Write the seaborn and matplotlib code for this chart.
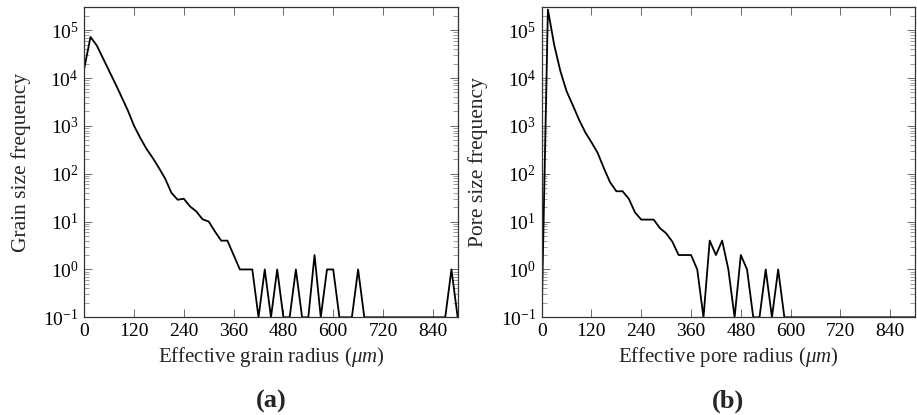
import numpy as np
import pandas as pd
import matplotlib
matplotlib.use("Agg")
import matplotlib.pyplot as plt
import seaborn as sns
from matplotlib.ticker import LogLocator, NullFormatter

# ---- data ----
radius = list(range(0, 901, 15))  # effective radius (um), 61 bins

grain_freq = [1.6e4, 7.2e4, 4.8e4, 2.6e4, 1.4e4, 7.6e3, 4.0e3, 2.1e3, 1.0e3, 560,
              330, 214, 132, 79, 40, 28.6, 30, 20.7, 16.3, 11.2,
              10, 6.2, 4, 4, 2, 1, 1, 1, 0.1, 1,
              0.1, 1, 0.1, 0.1, 1, 0.1, 0.1, 2, 0.1, 1,
              1, 0.1, 0.1, 0.1, 1, 0.1, 0.1, 0.1, 0.1, 0.1,
              0.1, 0.1, 0.1, 0.1, 0.1, 0.1, 0.1, 0.1, 0.1, 1,
              0.1]

pore_freq = [0.1, 2.7e5, 5.0e4, 1.4e4, 5.3e3, 2.7e3, 1.35e3, 735, 454, 272,
             130, 66, 43, 43, 30, 15.5, 11, 11, 11, 7.3,
             5.7, 3.8, 2, 2, 2, 1, 0.1, 4, 2, 4,
             1, 0.1, 2, 1, 0.1, 0.1, 1, 0.1, 1, 0.1,
             0.1, 0.1, 0.1, 0.1, 0.1, 0.1, 0.1, 0.1, 0.1, 0.1,
             0.1, 0.1, 0.1, 0.1, 0.1, 0.1, 0.1, 0.1, 0.1, 0.1,
             0.1]

xticks = [0, 120, 240, 360, 480, 600, 720, 840]
xlabels = ["Effective grain radius ($\\mu m$)", "Effective pore radius ($\\mu m$)"]
ylabels = ["Grain size frequency", "Pore size frequency"]
captions = ["(a)", "(b)"]

# ---- style ----
sns.set_style("ticks")
plt.rcParams["font.family"] = ["Liberation Serif", "DejaVu Serif"]
plt.rcParams["mathtext.fontset"] = "custom"
plt.rcParams["mathtext.rm"] = "Liberation Serif"
plt.rcParams["mathtext.it"] = "Liberation Serif:italic"
plt.rcParams["mathtext.bf"] = "Liberation Serif:bold"

fig = plt.figure(figsize=(9.17, 4.15), dpi=100)
axes = [fig.add_axes([0.0919, 0.2354, 0.4072, 0.747]),
        fig.add_axes([0.5907, 0.2354, 0.4072, 0.747])]

series = [grain_freq, pore_freq]
for ax, yv, xl, yl, cap in zip(axes, series, xlabels, ylabels, captions):
    df = pd.DataFrame({"r": radius, "f": yv})
    sns.lineplot(data=df, x="r", y="f", ax=ax, color="black", linewidth=1.3)
    ax.set_yscale("log")
    ax.set_xlim(0, 900)
    ax.set_ylim(0.1, 3e5)
    ax.set_xticks(xticks)
    ax.set_xticklabels([str(t) for t in xticks])
    ax.yaxis.set_major_locator(LogLocator(base=10, numticks=20))
    ax.yaxis.set_minor_locator(LogLocator(base=10, subs=np.arange(2, 10), numticks=20))
    ax.yaxis.set_minor_formatter(NullFormatter())
    ax.tick_params(which="both", direction="in", top=True, right=True,
                   labelsize=14, colors="black")
    ax.tick_params(axis="x", which="major", length=6, width=0.6, color="#555555", pad=4)
    ax.tick_params(axis="y", which="major", length=6, width=0.6, color="#555555", pad=4)
    ax.tick_params(axis="y", which="minor", length=3.5, width=0.5, color="#777777")
    ax.tick_params(axis="x", which="minor", bottom=False, top=False)
    for s in ax.spines.values():
        s.set_linewidth(0.9)
        s.set_color("#333333")
    ax.set_xlabel(xl, fontsize=15, labelpad=4)
    ax.set_ylabel(yl, fontsize=15.5, labelpad=9)
    ax.text(0.5, -0.27, cap, transform=ax.transAxes, ha="center", va="center",
            fontsize=19, fontweight="bold")

fig.savefig("out.png", dpi=100)
